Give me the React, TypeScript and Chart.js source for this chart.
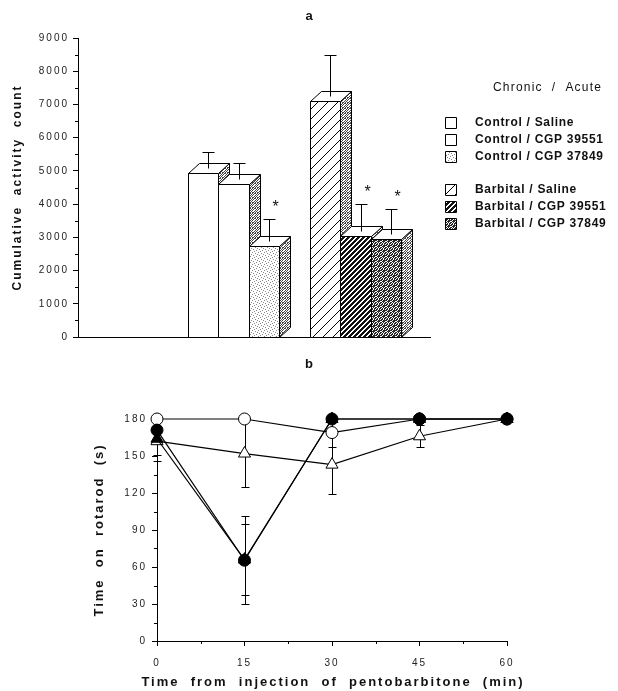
import React, { useEffect, useRef } from 'react';
import { Chart, registerables } from 'chart.js';

Chart.register(...registerables);

const FONT = '"Liberation Sans", Arial, Helvetica, sans-serif';
Chart.defaults.font.family = FONT;

// ---------- Panel a data ----------
const barLabels = [
  'Control / Saline',
  'Control / CGP 39551',
  'Control / CGP 37849',
  'Barbital / Saline',
  'Barbital / CGP 39551',
  'Barbital / CGP 37849',
];
const barMeans = [4950, 4600, 2750, 7100, 3050, 2950];
const barSEM = [480, 500, 650, 1250, 800, 750];
const barSignificant = [false, false, true, false, true, true];
const barChronicGroup = [0, 0, 0, 1, 1, 1];
const barAcuteIndex = [0, 1, 2, 0, 1, 2];
const legendHeader = 'Chronic  /  Acute';

// ---------- Panel b data ----------
const timePoints = [0, 15, 30, 45, 60];
const openCircle = [180, 180, 169, 180, 180];
const openCircleErr = [0, 0, 12, 0, 0];
const filledCircle = [171, 65.5, 180, 180, 180];
const filledCircleErr = [9, 35.5, 0, 0, 0];
const openTriangle = [162, 152, 143, 166, 180];
const openTriangleErr = [11, 27, 24, 9, 0];
const filledTriangle = [164, 66, 180, 180, 180];
const filledTriangleErr = [18, 29, 0, 0, 0];
const xTitleB = 'Time  from  injection  of  pentobarbitone  (min)';

// ---------- patterns ----------
function tile(ctx: CanvasRenderingContext2D, size: number, color: string, pts: number[][]) {
  const c = document.createElement('canvas');
  c.width = size;
  c.height = size;
  const g = c.getContext('2d')!;
  g.fillStyle = '#fff';
  g.fillRect(0, 0, size, size);
  g.fillStyle = color;
  pts.forEach(([x, y]) => g.fillRect(x, y, 1, 1));
  return ctx.createPattern(c, 'repeat')!;
}

function getPatterns(chart: any) {
  if (chart.$patterns) return chart.$patterns;
  const ctx = chart.ctx as CanvasRenderingContext2D;
  const sparse: number[][] = [];
  for (let i = 0; i < 10; i++) sparse.push([i, 9 - i]);
  const dense: number[][] = [];
  for (let i = 0; i < 5; i++) {
    for (let k = 0; k < 3; k++) dense.push([i, (4 - i + k) % 5]);
  }
  const p = {
    white: '#ffffff',
    light: tile(ctx, 6, '#8a8a8a', [[0, 0], [3, 1], [1, 3], [4, 4], [5, 2], [2, 5]]),
    side: tile(ctx, 5, '#444444', [
      [0, 0], [2, 0], [4, 1], [1, 1], [3, 2], [0, 3], [2, 3], [4, 3], [1, 4], [3, 4], [0, 2], [2, 2],
    ]),
    darkFront: tile(ctx, 5, '#2a2a2a', [
      [0, 0], [1, 0], [3, 0], [2, 1], [3, 1], [4, 1], [0, 2], [1, 2], [3, 2], [0, 3], [2, 3], [4, 3],
      [1, 4], [2, 4], [4, 4], [4, 0],
    ]),
    sparse: tile(ctx, 10, '#000000', sparse),
    dense: tile(ctx, 5, '#111111', dense),
  };
  chart.$patterns = p;
  return p;
}

const frontFillKeys = ['white', 'white', 'light', 'sparse', 'dense', 'darkFront'];

// ---------- plugins ----------
const spacingPlugin = {
  id: 'spacing',
  beforeDraw(chart: any) {
    (chart.ctx as any).letterSpacing = '2px';
  },
};

const panelLabelPlugin = {
  id: 'panelLabel',
  afterDraw(chart: any, _a: any, opts: any) {
    const ctx = chart.ctx;
    ctx.save();
    (ctx as any).letterSpacing = '0px';
    ctx.font = `bold 13px ${FONT}`;
    ctx.fillStyle = '#111';
    ctx.textAlign = 'center';
    ctx.textBaseline = 'middle';
    ctx.fillText(opts.text, 309, opts.y);
    if (opts.xTitle) {
      const xs = chart.scales.x;
      (ctx as any).letterSpacing = '2px';
      ctx.fillText(opts.xTitle, (xs.left + xs.right) / 2 + 1, xs.bottom - 9);
    }
    ctx.restore();
  },
};

const minorTickPlugin = {
  id: 'minorTicks',
  afterDraw(chart: any, _a: any, opts: any) {
    const ctx = chart.ctx;
    ctx.save();
    ctx.strokeStyle = '#000';
    ctx.lineWidth = 1;
    const ys = chart.scales.y;
    if (opts.yStep) {
      for (let v = opts.yStep / 2; v < ys.max; v += opts.yStep) {
        const py = Math.round(ys.getPixelForValue(v)) + 0.5;
        ctx.beginPath();
        ctx.moveTo(ys.right - 3, py);
        ctx.lineTo(ys.right, py);
        ctx.stroke();
      }
    }
    const xs = chart.scales.x;
    if (opts.xStep) {
      for (let v = opts.xStep / 2; v < xs.max; v += opts.xStep) {
        const px = Math.round(xs.getPixelForValue(v)) + 0.5;
        ctx.beginPath();
        ctx.moveTo(px, xs.top);
        ctx.lineTo(px, xs.top + 3);
        ctx.stroke();
      }
    }
    ctx.restore();
  },
};

const DX = 11;
const DY = 10;

const bars3dPlugin = {
  id: 'bars3d',
  afterDatasetsDraw(chart: any) {
    const ctx = chart.ctx as CanvasRenderingContext2D;
    const p = getPatterns(chart);
    const ys = chart.scales.y;
    const meta = chart.getDatasetMeta(0);
    ctx.save();
    (ctx as any).letterSpacing = '0px';
    ctx.lineWidth = 1;
    ctx.strokeStyle = '#000';
    meta.data.forEach((el: any, i: number) => {
      const { x, y, base, width } = el.getProps(['x', 'y', 'base', 'width'], true);
      const l = Math.round(x - width / 2) + 0.5;
      const r = Math.round(x + width / 2) + 0.5;
      const t = Math.round(y) + 0.5;
      const b = Math.round(base) + 0.5;
      // front
      ctx.beginPath();
      ctx.rect(l, t, r - l, b - t);
      ctx.fillStyle = p[frontFillKeys[i]];
      ctx.fill();
      ctx.stroke();
      // side
      ctx.beginPath();
      ctx.moveTo(r, t);
      ctx.lineTo(r + DX, t - DY);
      ctx.lineTo(r + DX, b - DY);
      ctx.lineTo(r, b);
      ctx.closePath();
      ctx.fillStyle = p.side;
      ctx.fill();
      ctx.stroke();
      // top
      ctx.beginPath();
      ctx.moveTo(l, t);
      ctx.lineTo(l + DX, t - DY);
      ctx.lineTo(r + DX, t - DY);
      ctx.lineTo(r, t);
      ctx.closePath();
      ctx.fillStyle = '#fff';
      ctx.fill();
      ctx.stroke();
      // error bar
      const ex = Math.round(x + DX / 2) + 0.5;
      const ey0 = t - DY / 2;
      const ey1 = Math.round(ys.getPixelForValue(barMeans[i] + barSEM[i]) - DY / 2) + 0.5;
      ctx.beginPath();
      ctx.moveTo(ex, ey0);
      ctx.lineTo(ex, ey1);
      ctx.moveTo(ex - 6, ey1);
      ctx.lineTo(ex + 6, ey1);
      ctx.stroke();
      if (barSignificant[i]) {
        ctx.font = `16px ${FONT}`;
        ctx.fillStyle = '#111';
        ctx.textAlign = 'center';
        ctx.textBaseline = 'alphabetic';
        ctx.fillText('*', ex + 6, ey1 - 8);
      }
    });
    ctx.restore();
  },
};

const legendPlugin = {
  id: 'legendA',
  afterDraw(chart: any) {
    const ctx = chart.ctx as CanvasRenderingContext2D;
    const p = getPatterns(chart);
    ctx.save();
    ctx.fillStyle = '#111';
    ctx.textBaseline = 'middle';
    ctx.textAlign = 'left';
    ctx.font = `12px ${FONT}`;
    (ctx as any).letterSpacing = '1.2px';
    ctx.fillText(legendHeader, 493, 88);
    ctx.font = `bold 12px ${FONT}`;
    (ctx as any).letterSpacing = '0.7px';
    ctx.lineWidth = 1;
    ctx.strokeStyle = '#000';
    barLabels.forEach((lab, i) => {
      const yc = 123 + i * 17 + barChronicGroup[i] * 16;
      ctx.beginPath();
      ctx.rect(445.5, yc - 5.5, 11, 11);
      ctx.fillStyle = p[frontFillKeys[i]];
      ctx.fill();
      ctx.stroke();
      ctx.fillStyle = '#111';
      ctx.fillText(lab, 475, yc);
    });
    ctx.restore();
  },
};

const errorBarPlugin = {
  id: 'errorBars',
  beforeDatasetsDraw(chart: any) {
    const ctx = chart.ctx as CanvasRenderingContext2D;
    const ys = chart.scales.y;
    ctx.save();
    ctx.strokeStyle = '#000';
    ctx.lineWidth = 1;
    chart.data.datasets.forEach((ds: any, di: number) => {
      const meta = chart.getDatasetMeta(di);
      meta.data.forEach((pt: any, i: number) => {
        const e = ds.errorBars[i];
        if (!e) return;
        const v = ds.data[i].y;
        const px = Math.round(pt.x) + 0.5;
        const y1 = Math.round(ys.getPixelForValue(v + e)) + 0.5;
        const y2 = Math.round(ys.getPixelForValue(v - e)) + 0.5;
        ctx.beginPath();
        ctx.moveTo(px, y1);
        ctx.lineTo(px, y2);
        ctx.moveTo(px - 4, y1);
        ctx.lineTo(px + 4, y1);
        ctx.moveTo(px - 4, y2);
        ctx.lineTo(px + 4, y2);
        ctx.stroke();
      });
    });
    ctx.restore();
  },
};

const barSlot = (i: number) => barChronicGroup[i] * 4 + barAcuteIndex[i];

function makeSeries(label: string, values: number[], errs: number[], style: string, filled: boolean, radius: number) {
  return {
    label,
    data: timePoints.map((t, i) => ({ x: t, y: values[i] })),
    errorBars: errs,
    borderColor: '#000',
    borderWidth: 1.2,
    pointStyle: style,
    pointRadius: radius,
    pointBackgroundColor: filled ? '#000' : '#fff',
    pointBorderColor: '#000',
    pointBorderWidth: 1,
    tension: 0,
    clip: false,
    fill: false,
  };
}

const plainNumber = (v: any) => String(v);

export default function App() {
  const refA = useRef<HTMLCanvasElement>(null);
  const refB = useRef<HTMLCanvasElement>(null);

  useEffect(() => {
    const chartA = new Chart(refA.current!, {
      type: 'bar',
      data: {
        datasets: [
          {
            label: 'Cumulative activity count',
            data: barMeans.map((v, i) => ({ x: barSlot(i), y: v })) as any,
            backgroundColor: 'rgba(0,0,0,0)',
            borderWidth: 0,
            barPercentage: 1,
            categoryPercentage: 1,
          },
        ],
      },
      options: {
        responsive: false,
        animation: false,
        devicePixelRatio: 1,
        layout: { padding: { top: 38, right: 188, left: 0, bottom: 0 } },
        plugins: {
          legend: { display: false },
          tooltip: { enabled: false },
          panelLabel: { text: 'a', y: 16 },
          minorTicks: { yStep: 1000 },
        } as any,
        scales: {
          x: {
            type: 'linear',
            min: -4.1,
            max: 7.45,
            ticks: { display: false },
            grid: { display: false },
            border: { display: true, color: '#000', width: 1 },
            afterBuildTicks: (s: any) => {
              s.ticks = [];
            },
            afterFit: (s: any) => {
              s.height = 13;
            },
          },
          y: {
            min: 0,
            max: 9000,
            ticks: { stepSize: 1000, font: { size: 10 }, color: '#222', padding: 4, callback: plainNumber },
            grid: { drawOnChartArea: false, tickLength: 5, color: '#000' },
            border: { color: '#000', width: 1 },
            title: {
              display: true,
              text: 'Cumulative  activity  count',
              font: { size: 12, weight: 'bold' },
              color: '#111',
              padding: { top: 10, bottom: 0 },
            },
            afterFit: (s: any) => {
              s.width = 78;
            },
          },
        } as any,
      },
      plugins: [spacingPlugin, bars3dPlugin, minorTickPlugin, legendPlugin, panelLabelPlugin],
    });

    const chartB = new Chart(refB.current!, {
      type: 'line',
      data: {
        datasets: [
          makeSeries('filled circles', filledCircle, filledCircleErr, 'circle', true, 6),
          makeSeries('filled triangles', filledTriangle, filledTriangleErr, 'triangle', true, 7),
          makeSeries('open circles', openCircle, openCircleErr, 'circle', false, 6),
          makeSeries('open triangles', openTriangle, openTriangleErr, 'triangle', false, 7),
        ] as any,
      },
      options: {
        responsive: false,
        animation: false,
        devicePixelRatio: 1,
        layout: { padding: { top: 69, right: 111, left: 0, bottom: 0 } },
        plugins: {
          legend: { display: false },
          tooltip: { enabled: false },
          panelLabel: { text: 'b', y: 14, xTitle: xTitleB },
          minorTicks: { yStep: 30, xStep: 15 },
        } as any,
        scales: {
          x: {
            type: 'linear',
            min: 0,
            max: 60,
            ticks: { stepSize: 15, font: { size: 10 }, color: '#222', padding: 11, callback: plainNumber },
            grid: { drawOnChartArea: false, tickLength: 5, color: '#000' },
            border: { color: '#000', width: 1 },
            title: {
              display: false,
              text: xTitleB,
              font: { size: 13, weight: 'bold' },
              color: '#111',
            },
            afterFit: (s: any) => {
              s.height = 50;
            },
          },
          y: {
            min: 0,
            max: 180,
            ticks: { stepSize: 30, font: { size: 10 }, color: '#222', padding: 5, callback: plainNumber },
            grid: { drawOnChartArea: false, tickLength: 5, color: '#000' },
            border: { color: '#000', width: 1 },
            title: {
              display: true,
              text: 'Time  on  rotarod  (s)',
              font: { size: 13, weight: 'bold' },
              color: '#111',
              padding: { top: 92, bottom: 0 },
            },
            afterFit: (s: any) => {
              s.width = 157;
            },
          },
        } as any,
      },
      plugins: [spacingPlugin, errorBarPlugin, minorTickPlugin, panelLabelPlugin],
    });

    return () => {
      chartA.destroy();
      chartB.destroy();
    };
  }, []);

  return (
    <div style={{ position: 'absolute', left: 0, top: 0, width: 618, height: 691, background: '#fff' }}>
      <canvas
        ref={refA}
        width={618}
        height={350}
        style={{ position: 'absolute', left: 0, top: 0, width: 618, height: 350 }}
      />
      <canvas
        ref={refB}
        width={618}
        height={341}
        style={{ position: 'absolute', left: 0, top: 350, width: 618, height: 341 }}
      />
    </div>
  );
}
